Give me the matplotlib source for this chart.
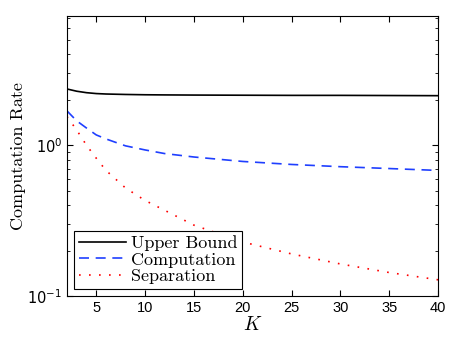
import matplotlib.pyplot as plt
from matplotlib.ticker import LogLocator, NullFormatter, FixedLocator

# valores
k_vals = [2, 3, 4, 5, 6, 8, 10, 12, 15, 20, 25, 30, 35, 40]
upper_bound = [2.36, 2.28, 2.23, 2.20, 2.185, 2.17, 2.16, 2.155, 2.15, 2.145, 2.14, 2.14, 2.135, 2.13]
computation = [1.69, 1.45, 1.30, 1.17, 1.10, 0.99, 0.93, 0.88, 0.835, 0.78, 0.745, 0.72, 0.70, 0.68]
separation = [1.55, 1.26, 1.00, 0.82, 0.68, 0.52, 0.43, 0.37, 0.295, 0.228, 0.19, 0.163, 0.143, 0.128]

x_ticks = [5, 10, 15, 20, 25, 30, 35, 40]

fig = plt.figure(figsize=(4.68, 3.39), dpi=100)
ax = fig.add_axes([0.143, 0.127, 0.793, 0.826])

ax.plot(k_vals, upper_bound, color='black', linestyle='-', linewidth=1.2, label='Upper Bound')
ax.plot(k_vals, computation, color='#1f3fff', linestyle=(0, (6, 4)), linewidth=1.2, label='Computation')
ax.plot(k_vals, separation, color='red', linestyle=(0, (1, 5)), linewidth=1.2, label='Separation')

ax.set_yscale('log')
ax.set_xlim(2, 40)
ax.set_ylim(0.1, 7.2)

ax.xaxis.set_major_locator(FixedLocator(x_ticks))
ax.set_xticklabels([str(t) for t in x_ticks], fontfamily='Liberation Sans', fontsize=10.5)
ax.yaxis.set_major_locator(FixedLocator([0.1, 1.0]))
ax.set_yticklabels([r'$10^{-1}$', r'$10^{0}$'], fontfamily='Liberation Sans', fontsize=10.5)
ax.yaxis.set_minor_locator(LogLocator(base=10, subs=range(2, 10)))
ax.yaxis.set_minor_formatter(NullFormatter())

ax.tick_params(which='both', direction='in', top=True, right=True)
ax.tick_params(which='major', length=4)
ax.tick_params(which='minor', length=2.5)

ax.set_xlabel(r'$K$', fontsize=14, math_fontfamily='cm', labelpad=0)
ax.set_ylabel('Computation Rate', fontfamily='cmr10', fontsize=13, labelpad=1)

leg = ax.legend(loc='lower left', prop={'family': 'cmr10', 'size': 13},
                fancybox=False, framealpha=1, edgecolor='black',
                borderpad=0.25, labelspacing=0.05, handlelength=2.6,
                handletextpad=0.3, borderaxespad=0.4)
leg.get_frame().set_linewidth(0.8)

fig.savefig('out.png', dpi=100)
